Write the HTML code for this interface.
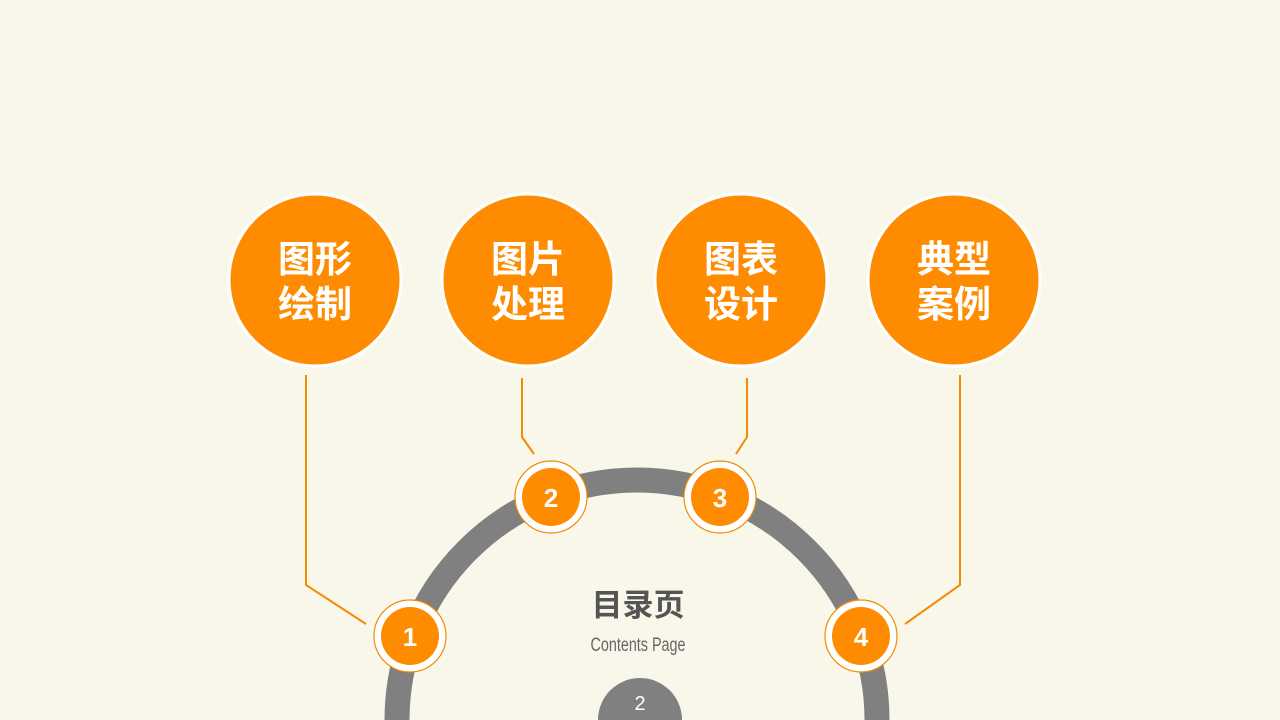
<!DOCTYPE html>
<html><head><meta charset="utf-8"><style>
html,body{margin:0;padding:0;background:#f9f7ea;width:1280px;height:720px;overflow:hidden;}
svg{display:block}
</style></head><body>
<svg width="1280" height="720" viewBox="0 0 1280 720" xmlns="http://www.w3.org/2000/svg">
<rect width="1280" height="720" fill="#f9f7ea"/>
<path d="M397,720 A240,240 0 0 1 877,720" fill="none" stroke="#808080" stroke-width="25"/>
<g fill="none" stroke="#f28c00" stroke-width="2">
<polyline points="306,375 306,585 366,624"/>
<polyline points="522,378 522,437 534,454"/>
<polyline points="747,378 747,437 736,454"/>
<polyline points="960,375 960,585 905,624"/>
</g>
<g stroke="#ffffff" stroke-width="3" fill="#ff8c00">
<circle cx="315" cy="280" r="86"/>
<circle cx="528" cy="280" r="86"/>
<circle cx="741" cy="280" r="86"/>
<circle cx="954" cy="280" r="86"/>
</g>
<g font-family="'Liberation Sans','Noto Sans CJK SC',sans-serif" font-weight="bold" font-size="37" fill="#fff" text-anchor="middle">
<text x="315" y="272">图形</text><text x="315" y="317">绘制</text>
<text x="528" y="272">图片</text><text x="528" y="317">处理</text>
<text x="741" y="272">图表</text><text x="741" y="317">设计</text>
<text x="954" y="272">典型</text><text x="954" y="317">案例</text>
</g>
<g>
<circle cx="410" cy="636" r="36" fill="#fff" stroke="#f28c00" stroke-width="1.2"/><circle cx="410" cy="636" r="29" fill="#ff8c00"/>
<circle cx="551" cy="497" r="36" fill="#fff" stroke="#f28c00" stroke-width="1.2"/><circle cx="551" cy="497" r="29" fill="#ff8c00"/>
<circle cx="720" cy="497" r="36" fill="#fff" stroke="#f28c00" stroke-width="1.2"/><circle cx="720" cy="497" r="29" fill="#ff8c00"/>
<circle cx="861" cy="636" r="36" fill="#fff" stroke="#f28c00" stroke-width="1.2"/><circle cx="861" cy="636" r="29" fill="#ff8c00"/>
</g>
<g font-family="'Liberation Sans Narrow','Liberation Sans',sans-serif" font-weight="bold" font-size="26" fill="#fff" text-anchor="middle">
<text x="410" y="646">1</text><text x="551" y="507">2</text><text x="720" y="507">3</text><text x="861" y="646">4</text>
</g>
<text x="638" y="616" text-anchor="middle" font-family="'Liberation Sans','Noto Sans CJK SC',sans-serif" font-weight="bold" font-size="31" fill="#555">目录页</text>
<text x="638" y="651" text-anchor="middle" font-family="'Liberation Sans Narrow','Liberation Sans',sans-serif" font-size="19" fill="#666" textLength="95" lengthAdjust="spacingAndGlyphs">Contents Page</text>
<path d="M598,720 A42,42 0 0 1 682,720 Z" fill="#808080"/>
<text x="640" y="710" text-anchor="middle" font-family="'Liberation Sans',sans-serif" font-size="20" fill="#fff">2</text>
</svg>
</body></html>
